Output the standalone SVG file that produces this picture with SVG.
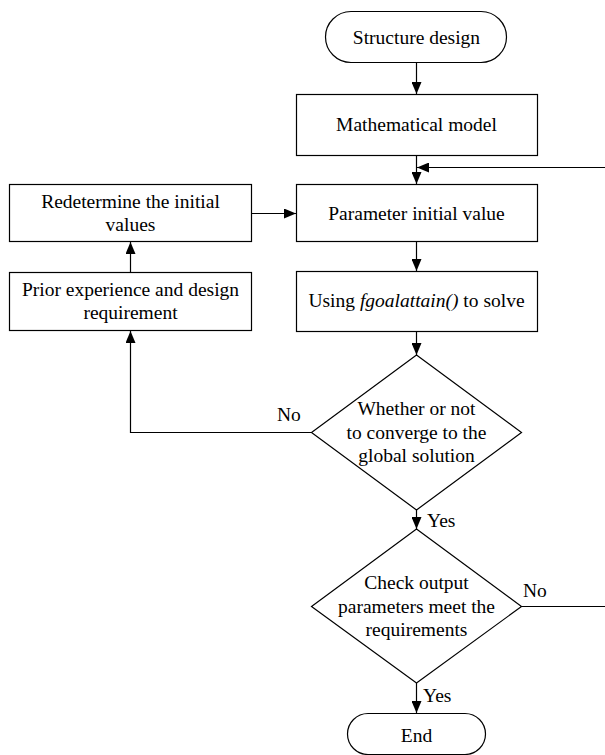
<svg xmlns="http://www.w3.org/2000/svg" width="605" height="755" viewBox="0 0 605 755">
<style>
.s{fill:#fff;stroke:#000;stroke-width:1.2}
.c{fill:none;stroke:#000;stroke-width:1.2}
text{font-family:"Liberation Serif","Times New Roman",serif;font-size:19.5px;fill:#000}
.m{text-anchor:middle}
</style>
<defs>
<marker id="a" viewBox="0 0 12 10" refX="12" refY="5" markerWidth="12" markerHeight="10" markerUnits="userSpaceOnUse" orient="auto">
<path d="M0,0 L12,5 L0,10 z" fill="#000"/>
</marker>
</defs>
<g id="connectors">
<line class="c" x1="416.5" y1="63" x2="416.5" y2="94" marker-end="url(#a)"/>
<line class="c" x1="416.5" y1="156" x2="416.5" y2="184" marker-end="url(#a)"/>
<line class="c" x1="605" y1="167.5" x2="417" y2="167.5" marker-end="url(#a)"/>
<line class="c" x1="252" y1="213.5" x2="296" y2="213.5" marker-end="url(#a)"/>
<line class="c" x1="416.5" y1="242" x2="416.5" y2="271" marker-end="url(#a)"/>
<line class="c" x1="130.5" y1="272" x2="130.5" y2="242" marker-end="url(#a)"/>
<line class="c" x1="416.5" y1="332" x2="416.5" y2="355" marker-end="url(#a)"/>
<polyline class="c" points="312,432.5 130.5,432.5 130.5,331" marker-end="url(#a)"/>
<line class="c" x1="416.5" y1="510" x2="416.5" y2="529" marker-end="url(#a)"/>
<line class="c" x1="522" y1="606.5" x2="605" y2="606.5"/>
<line class="c" x1="416.5" y1="683" x2="416.5" y2="713" marker-end="url(#a)"/>
<text x="277" y="421">No</text>
<text x="427" y="527">Yes</text>
<text x="523" y="597">No</text>
<text x="423" y="702">Yes</text>
</g>
<g id="start">
<rect class="s" x="325.5" y="11.5" width="181" height="51" rx="25.5"/>
<text class="m" x="416.5" y="44">Structure design</text>
</g>
<g id="model">
<rect class="s" x="296.5" y="94.5" width="241" height="61"/>
<text class="m" x="416.5" y="131">Mathematical model</text>
</g>
<g id="param">
<rect class="s" x="296.5" y="184.5" width="241" height="57"/>
<text class="m" x="416.5" y="220">Parameter initial value</text>
</g>
<g id="redetermine">
<rect class="s" x="9.5" y="184.5" width="242" height="57"/>
<text class="m" x="130.5" y="208">Redetermine the initial</text>
<text class="m" x="130.5" y="231">values</text>
</g>
<g id="prior">
<rect class="s" x="9.5" y="272.5" width="242" height="58"/>
<text class="m" x="130.5" y="296">Prior experience and design</text>
<text class="m" x="130.5" y="319">requirement</text>
</g>
<g id="solve">
<rect class="s" x="296.5" y="271.5" width="241" height="60"/>
<text class="m" x="416.5" y="307">Using <tspan font-style="italic">fgoalattain()</tspan> to solve</text>
</g>
<g id="converge">
<polygon class="s" points="416.5,355 521.5,432.5 416.5,510 311.5,432.5"/>
<text class="m" x="416.5" y="415">Whether or not</text>
<text class="m" x="416.5" y="438.5">to converge to the</text>
<text class="m" x="416.5" y="462">global solution</text>
</g>
<g id="check">
<polygon class="s" points="416.5,529 521.5,606.5 416.5,683 311.5,606.5"/>
<text class="m" x="416.5" y="589">Check output</text>
<text class="m" x="416.5" y="612.5">parameters meet the</text>
<text class="m" x="416.5" y="635.5">requirements</text>
</g>
<g id="end">
<rect class="s" x="347.5" y="713.5" width="138" height="41" rx="20.5"/>
<text class="m" x="416.5" y="742">End</text>
</g>
</svg>
